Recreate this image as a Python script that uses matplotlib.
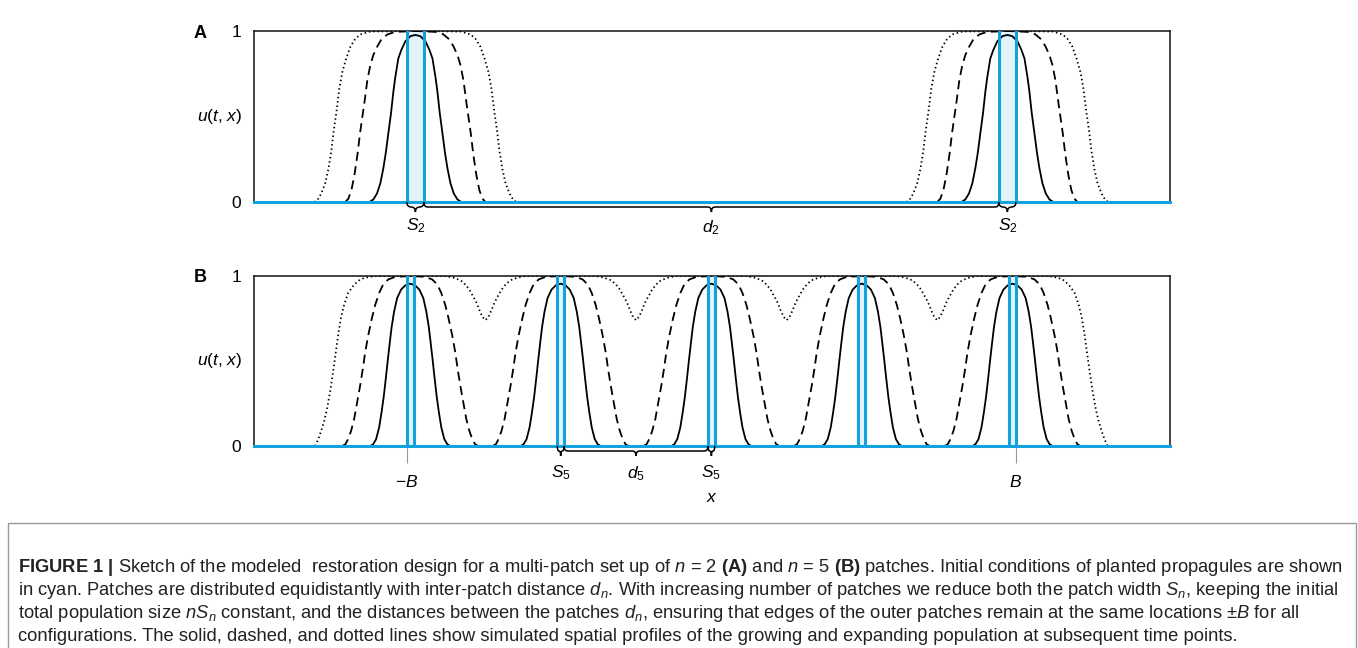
import matplotlib.pyplot as plt
import numpy as np
from matplotlib.path import Path
from matplotlib.patches import PathPatch, Rectangle

plt.rcParams['font.family'] = ['Liberation Sans', 'DejaVu Sans']
plt.rcParams['mathtext.fontset'] = 'custom'
plt.rcParams['mathtext.rm'] = 'Liberation Sans'
plt.rcParams['mathtext.it'] = 'Liberation Sans:italic'
plt.rcParams['mathtext.bf'] = 'Liberation Sans:bold'

CYAN = '#12a3df'
CYAN_FILL = '#e2f3fb'

# patches: left edges and width, in units of B
patch_starts_A = [-1.0, 0.944]
patch_width_A = 0.056
patch_starts_B = [-1.0, -0.506, -0.011, 0.483, 0.978]
patch_width_B = 0.022

# half profiles: distance from patch centre -> u
solid_A_d = [0, .016, .033, .046, .056, .066, .072, .080, .089, .097, .105, .115, .126, .138, .151]
solid_A_u = [.977, .97, .94, .89, .84, .73, .65, .52, .40, .29, .20, .11, .05, .015, 0]
dashed_A_d = [0, .066, .092, .112, .125, .138, .148, .158, .166, .174, .182, .190, .200, .210, .220, .230]
dashed_A_u = [1.0, .995, .98, .95, .91, .86, .80, .71, .60, .50, .40, .28, .16, .07, .02, 0]
dotted_A_d = [0, .148, .181, .197, .213, .227, .240, .250, .259, .268, .276, .286, .296, .309, .322, .332]
dotted_A_u = [1.0, .997, .98, .955, .91, .84, .76, .66, .53, .42, .30, .19, .11, .05, .01, 0]

solid_B_d = [0, .016, .030, .043, .053, .061, .067, .074, .080, .087, .094, .102, .112, .122, .131]
solid_B_u = [.955, .945, .92, .87, .79, .70, .61, .50, .40, .29, .20, .11, .04, .01, 0]
dashed_B_d = [0, .049, .072, .089, .102, .115, .126, .138, .148, .156, .164, .174, .184, .194, .204, .213, .223]
dashed_B_u = [1, .995, .98, .95, .90, .83, .75, .65, .55, .45, .36, .26, .16, .09, .04, .01, 0]
# dotted profile in B: outer flanks and the dips between neighbouring patches
dotted_B_flank_d = [0, .118, .148, .164, .184, .204, .217, .227, .236, .246, .253, .263, .273, .282, .292, .302, .312]
dotted_B_flank_u = [1, 1, .99, .98, .95, .90, .83, .76, .66, .53, .44, .32, .22, .15, .09, .04, 0]
dotted_B_dip_g = [0, .010, .020, .030, .039, .053, .066, .082, .105, .131]
dotted_B_dip_u = [.74, .76, .80, .845, .875, .92, .95, .975, .99, 1.0]


def bump(c, d, u):
    d = np.asarray(d)
    u = np.asarray(u)
    x = np.concatenate([c - d[::-1], c + d[1:]])
    y = np.concatenate([u[::-1], u[1:]])
    return x, y


def brace(ax, x0, x1, h, r):
    xm = (x0 + x1) / 2
    verts = [(x0, 0), (x0, -h / 2), (x0 + r, -h / 2),
             (xm - r, -h / 2), (xm, -h / 2), (xm, -h),
             (xm, -h / 2), (xm + r, -h / 2),
             (x1 - r, -h / 2), (x1, -h / 2), (x1, 0)]
    codes = [Path.MOVETO, Path.CURVE3, Path.CURVE3, Path.LINETO,
             Path.CURVE3, Path.CURVE3, Path.CURVE3, Path.CURVE3,
             Path.LINETO, Path.CURVE3, Path.CURVE3]
    p = PathPatch(Path(verts, codes), fill=False, lw=1.1, ec='black',
                  transform=ax.get_xaxis_transform(), clip_on=False, zorder=5)
    ax.add_patch(p)


def setup(ax):
    ax.set_xlim(-1.502, 1.506)
    ax.set_ylim(0, 1)
    ax.set_yticks([0, 1])
    ax.set_yticklabels(['0', '1'])
    ax.tick_params(axis='y', length=0, pad=9, labelsize=12.5)
    for s in ax.spines.values():
        s.set_linewidth(1.2)
        s.set_color('#222222')
    ax.text(-0.013, 0.5, r'$u$($t$, $x$)', transform=ax.transAxes,
            ha='right', va='center', fontsize=12.5)
    ax.axhline(0, color=CYAN, lw=2.2, zorder=4, clip_on=False)


def draw_patches(ax, starts, w):
    for s in starts:
        ax.axvspan(s, s + w, color=CYAN_FILL, lw=0, zorder=1)
        ax.axvline(s, color=CYAN, lw=2.2, zorder=4)
        ax.axvline(s + w, color=CYAN, lw=2.2, zorder=4)


fig = plt.figure(figsize=(13.58, 6.48), dpi=100)
W, H = 1358, 648
axA = fig.add_axes([254 / W, 1 - 202 / H, 916 / W, 171 / H])
axB = fig.add_axes([254 / W, 1 - 446 / H, 916 / W, 170 / H])

dashes = (0, (5, 3))
dots = (0, (0.8, 1.6))

# ---- panel A
setup(axA)
axA.set_xticks([])
draw_patches(axA, patch_starts_A, patch_width_A)
centres_A = [s + patch_width_A / 2 for s in patch_starts_A]
for c in centres_A:
    axA.plot(*bump(c, solid_A_d, solid_A_u), color='black', lw=1.3, zorder=3)
    axA.plot(*bump(c, dashed_A_d, dashed_A_u), color='black', lw=1.3, ls=dashes, zorder=3)
    axA.plot(*bump(c, dotted_A_d, dotted_A_u), color='black', lw=1.3, ls=dots, zorder=3)

hA = 10 / 171
brace(axA, patch_starts_A[0], patch_starts_A[0] + patch_width_A, hA, patch_width_A / 4)
brace(axA, patch_starts_A[0] + patch_width_A, patch_starts_A[1], hA, 0.012)
brace(axA, patch_starts_A[1], patch_starts_A[1] + patch_width_A, hA, patch_width_A / 4)
yl = -24 / 171
for c in centres_A:
    axA.text(c, yl, r'$S_2$', transform=axA.get_xaxis_transform(), ha='center', va='center', fontsize=12.5)
axA.text((patch_starts_A[0] + patch_width_A + patch_starts_A[1]) / 2, -26 / 171, r'$d_2$',
         transform=axA.get_xaxis_transform(), ha='center', va='center', fontsize=12.5)

# ---- panel B
setup(axB)
axB.set_xticks([-1, 1])
axB.set_xticklabels([r'$-B$', r'$B$'])
axB.tick_params(axis='x', length=12, width=0.8, color='#999999', pad=8, labelsize=12.5)
draw_patches(axB, patch_starts_B, patch_width_B)
centres_B = [s + patch_width_B / 2 for s in patch_starts_B]
for c in centres_B:
    axB.plot(*bump(c, solid_B_d, solid_B_u), color='black', lw=1.3, zorder=3)
    axB.plot(*bump(c, dashed_B_d, dashed_B_u), color='black', lw=1.3, ls=dashes, zorder=3)

fd = np.asarray(dotted_B_flank_d)
fu = np.asarray(dotted_B_flank_u)
gd = np.asarray(dotted_B_dip_g)
gu = np.asarray(dotted_B_dip_u)
xs = [centres_B[0] - fd[::-1]]
ys = [fu[::-1]]
for a, b in zip(centres_B[:-1], centres_B[1:]):
    m = (a + b) / 2
    xs += [m - gd[::-1], m + gd[1:]]
    ys += [gu[::-1], gu[1:]]
xs.append(centres_B[-1] + fd)
ys.append(fu)
axB.plot(np.concatenate(xs), np.concatenate(ys), color='black', lw=1.3, ls=dots, zorder=3)

hB = 10 / 170
p1, p2 = patch_starts_B[1], patch_starts_B[2]
brace(axB, p1, p1 + patch_width_B, hB, patch_width_B / 4)
brace(axB, p1 + patch_width_B, p2, hB, 0.012)
brace(axB, p2, p2 + patch_width_B, hB, patch_width_B / 4)
for c in centres_B[1:3]:
    axB.text(c, -27 / 170, r'$S_5$', transform=axB.get_xaxis_transform(), ha='center', va='center', fontsize=12.5)
axB.text((p1 + patch_width_B + p2) / 2, -28 / 170, r'$d_5$',
         transform=axB.get_xaxis_transform(), ha='center', va='center', fontsize=12.5)
axB.text(0.5, -52 / 170, r'$x$', transform=axB.transAxes, ha='center', va='center', fontsize=12.5)

fig.text(200 / W, 1 - 33 / H, 'A', ha='center', va='center', fontsize=13, fontweight='bold')
fig.text(200 / W, 1 - 278 / H, 'B', ha='center', va='center', fontsize=13, fontweight='bold')

# ---- caption
fig.add_artist(Rectangle((8 / W, -0.01), 1348 / W, (648 - 523) / H + 0.01, transform=fig.transFigure,
                         fill=False, ec='#999999', lw=1.0))
caption = [
    r'$\mathbf{FIGURE\ 1\ |}$ Sketch of the modeled  restoration design for a multi-patch set up of $n$ = 2 $\mathbf{(A)}$ and $n$ = 5 $\mathbf{(B)}$ patches. Initial conditions of planted propagules are shown',
    r'in cyan. Patches are distributed equidistantly with inter-patch distance $d_n$. With increasing number of patches we reduce both the patch width $S_n$, keeping the initial',
    r'total population size $nS_n$ constant, and the distances between the patches $d_n$, ensuring that edges of the outer patches remain at the same locations $\pm B$ for all',
    r'configurations. The solid, dashed, and dotted lines show simulated spatial profiles of the growing and expanding population at subsequent time points.',
]
for i, line in enumerate(caption):
    fig.text(18 / W, 1 - (568 + 22.8 * i) / H, line, ha='left', va='center', fontsize=13.2, color='#222222')

fig.savefig('out.png', dpi=100)
